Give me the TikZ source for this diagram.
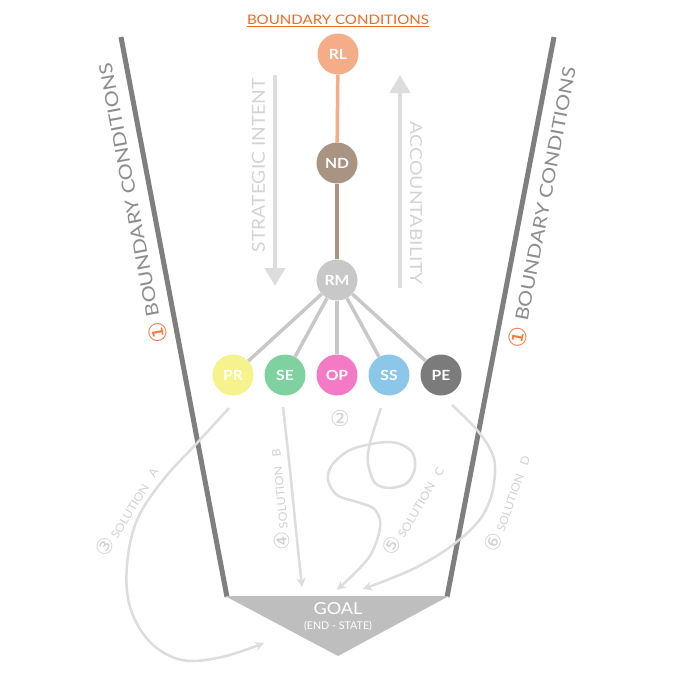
\documentclass[tikz,border=0pt]{standalone}
\usepackage{fontspec}
\setmainfont{Lato}
\newfontfamily\symf{DejaVu Sans}
\usepackage{graphicx}
\usetikzlibrary{arrows.meta}
\definecolor{cRL}{HTML}{F5AD87}
\definecolor{cND}{HTML}{A99383}
\definecolor{cRM}{HTML}{C8C8C8}
\definecolor{cPR}{HTML}{F6F38C}
\definecolor{cSE}{HTML}{80D1A0}
\definecolor{cOP}{HTML}{F47AC6}
\definecolor{cSS}{HTML}{8CC6E8}
\definecolor{cPE}{HTML}{7B7B7B}
\definecolor{titleO}{HTML}{F26A21}
\definecolor{oneO}{HTML}{F47B3E}
\definecolor{bgray}{HTML}{7F7F7F}
\definecolor{btext}{HTML}{8D8D8D}
\definecolor{lightA}{HTML}{DDDDDD}
\definecolor{lightT}{HTML}{D2D2D2}
\definecolor{goalC}{HTML}{BEBEBE}
\newcommand\nlab[1]{\scalebox{1.12}[1]{#1}}
\newcommand\cnum[1]{{\symf\fontsize{21}{21}\selectfont #1}}
\tikzset{
  circ/.style={circle, minimum size=41pt, inner sep=0pt, text=white,
    font=\bfseries\fontsize{14}{14}\selectfont},
  bline/.style={draw=bgray, line width=5pt},
  spoke/.style={draw=cRM, line width=3.5pt},
  bigarrow/.style={draw=lightA, line width=4pt, -{Triangle[width=20pt,length=18pt]}},
  sol/.style={draw=lightA, line width=2.5pt, -{Stealth[length=9pt,width=9pt]}},
  plain/.style={inner sep=0pt, outer sep=0pt},
  sidetext/.style={plain, text=btext},
  soltext/.style={plain, text=lightT},
  onestyle/.style={plain, text=oneO, font=\symf\fontsize{24}{24}\selectfont},
  numstyle/.style={plain, text=lightT, font=\symf\fontsize{22}{22}\selectfont}
}
\begin{document}
\begin{tikzpicture}[x=1pt,y=1pt]
\useasboundingbox (0,0) rectangle (680,-680);
\fill[white] (0,0) rectangle (680,-680);

% boundary lines
\coordinate (L1) at (121,-37); \coordinate (L2) at (227,-597);
\coordinate (R1) at (554,-37); \coordinate (R2) at (447,-597);
\draw[bline] (L1) -- (L2);
\draw[bline] (R1) -- (R2);

% goal triangle
\coordinate (G1) at (225,-596); \coordinate (G2) at (449,-596); \coordinate (G3) at (338,-656);
\fill[goalC] (G1) -- (G2) -- (G3) -- cycle;
\node[plain, text=white] (GOAL) at (338,-609) {\resizebox{49pt}{12pt}{GOAL}};
\node[plain, text=white, font=\fontsize{9}{9}\selectfont] (ENDS) at (338,-626) {\resizebox{68pt}{!}{(END - STATE)}};

% title
\node[plain, text=titleO] (title) at (338,-19.5) {\resizebox{182pt}{9.5pt}{BOUNDARY CONDITIONS}};
\draw[titleO, line width=1pt] ([yshift=-1.8pt]title.south west) -- ([yshift=-1.8pt]title.south east);

% big arrows
\coordinate (SI1) at (275,-75); \coordinate (SI2) at (275,-286);
\draw[bigarrow] (SI1) -- (SI2);
\coordinate (AC1) at (400,-288); \coordinate (AC2) at (400,-75);
\draw[bigarrow] (AC1) -- (AC2);
\node[soltext, text=lightA!90!gray, rotate=90] (SIT) at (258.5,-165) {\resizebox{174pt}{13pt}{STRATEGIC INTENT}};
\node[soltext, text=lightA!90!gray, rotate=-90] (ACT) at (416,-203.5) {\resizebox{163pt}{12pt}{ACCOUNTABILITY}};

% side texts
\node[sidetext, rotate=100.7] (BCL) at (129,-190) {\resizebox{258pt}{13pt}{BOUNDARY CONDITIONS}};
\node[onestyle, rotate=100.7] (N1L) at (158,-333) {①};
\node[sidetext, rotate=79.2] (BCR) at (545.5,-194) {\resizebox{258pt}{13pt}{BOUNDARY CONDITIONS}};
\node[onestyle, rotate=79.2] (N1R) at (518,-337) {①};

% nodes
\node[circ, fill=cRL] (RL) at (338,-54) {\nlab{RL}};
\node[circ, fill=cND] (ND) at (337,-163) {\nlab{ND}};
\node[circ, fill=cRM] (RM) at (337,-280) {\nlab{RM}};
\node[circ, fill=cPR] (PR) at (233,-375) {\nlab{PR}};
\node[circ, fill=cSE] (SE) at (285,-375) {\nlab{SE}};
\node[circ, fill=cOP] (OP) at (337,-375) {\nlab{OP}};
\node[circ, fill=cSS] (SS) at (389,-375) {\nlab{SS}};
\node[circ, fill=cPE] (PE) at (441,-375) {\nlab{PE}};

\draw[cRL, line width=3.5pt] (RL) -- (ND);
\draw[cND, line width=3.5pt] (ND) -- (RM);
\foreach \n in {PR,SE,OP,SS,PE} \draw[spoke] (RM) -- (\n);

\node[numstyle] (two) at (340,-418) {②};

% solutions
\coordinate (sA0) at (229,-408); \coordinate (sA1) at (264,-643);
\draw[sol] plot[smooth, tension=0.6] coordinates {(sA0) (197,-443) (163,-480) (137,-520) (127,-565) (130,-607) (150,-642) (182,-660) (222,-657) (sA1)};
\coordinate (sB0) at (283,-407); \coordinate (sB1) at (302,-587);
\draw[sol] plot[smooth, tension=0.6] coordinates {(sB0) (290,-470) (296,-530) (sB1)};
\coordinate (sC0) at (381,-408); \coordinate (sC1) at (337,-590);
\draw[sol] plot[smooth, tension=0.55] coordinates {(sC0) (370,-443) (368,-463) (375,-483) (390,-488) (407,-483) (415,-468) (412,-452) (397,-443) (377,-443) (350,-450) (332,-465) (328,-480) (337,-495) (357,-502) (373,-508) (380,-520) (378,-537) (367,-560) (sC1)};
\coordinate (sD0) at (452,-405); \coordinate (sD1) at (363,-589);
\draw[sol] plot[smooth, tension=0.6] coordinates {(sD0) (477,-430) (492,-453) (495,-473) (490,-500) (477,-523) (450,-547) (417,-567) (387,-580) (sD1)};

% solution labels
\node[soltext, rotate=58.6] (LA) at (126,-511) {\cnum{③}\hspace{3pt}\resizebox{80pt}{8.3pt}{SOLUTION\hspace{0.8em}A}};
\node[soltext, rotate=95.6] (LB) at (277.5,-500) {\cnum{④}\hspace{3pt}\resizebox{80pt}{8.3pt}{SOLUTION\hspace{0.8em}B}};
\node[soltext, rotate=59.6] (LC) at (412.5,-510) {\cnum{⑤}\hspace{3pt}\resizebox{80pt}{8.3pt}{SOLUTION\hspace{0.8em}C}};
\node[soltext, rotate=71] (LD) at (506.5,-503) {\cnum{⑥}\hspace{3pt}\resizebox{80pt}{8.3pt}{SOLUTION\hspace{0.8em}D}};
\end{tikzpicture}
\end{document}
